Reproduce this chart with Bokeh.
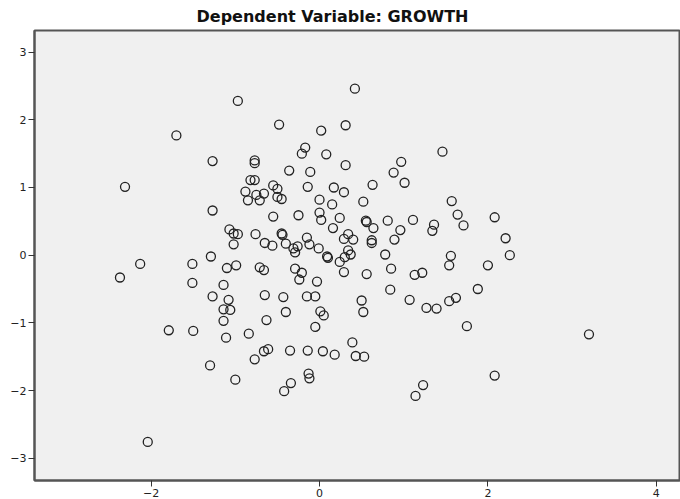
from bokeh.plotting import figure
from bokeh.models import Range1d, FixedTicker, CustomJSTickFormatter
from bokeh.embed import file_html
from bokeh.resources import INLINE

title_text = "Dependent Variable: GROWTH"
x_ticks = [-2, 0, 2, 4]
y_ticks = [-3, -2, -1, 0, 1, 2, 3]

x_vals = [
    -0.97, -1.70, -0.48, 0.02, 0.42, 0.31, -1.27, -0.77, -0.77, -0.17,
    -0.21, 0.08, -0.36, -0.11, 0.31, 1.46, 0.97, 0.88, 1.01, 0.63,
    0.29, 0.52, 1.57, 1.64, 1.71, 2.08, 2.21, 1.11, 0.81, 0.55,
    0.56, 0.64, 0.96, 1.36, 1.34, 0.89, 0.62, 0.62, 0.29, 0.40,
    0.34, 0.30, 0.34, 0.37, 0.78, 1.56, 1.54, 2.26, 2.00, 0.29,
    0.56, 0.85, 1.13, 1.22, 0.84, 1.88, 0.50, 0.52, 1.07, 1.27,
    1.39, 1.54, 1.62, 1.75, 3.20, 0.39, 0.43, 0.53, 2.08, 1.23,
    1.14, -1.29, -2.13, -2.37, -1.51, -1.51, -1.10, -0.99, -1.14, -1.27,
    -1.08, -1.14, -1.06, -1.14, -1.11, -1.79, -1.50, -1.30, -1.00, -0.84,
    -0.77, -0.66, -0.61, -0.63, -0.65, -0.71, -0.66, -0.43, -0.40, -0.35,
    -0.14, 0.04, 0.18, -0.34, -0.42, -0.13, -0.12, -2.04, -0.29, -0.21,
    -0.24, -0.03, -0.15, -0.05, 0.01, 0.05, -0.05, -0.29, 0.09, 0.10,
    0.24, -2.31, -0.82, -0.77, -0.88, -0.85, -0.75, -0.71, -0.66, -0.55,
    -0.50, -0.50, -0.45, -0.14, 0.00, 0.00, 0.02, -0.25, -0.55, -1.27,
    -1.07, -1.02, -0.97, -1.02, -0.76, -0.65, -0.56, -0.45, -0.44, -0.40,
    -0.31, -0.26, -0.15, -0.12, -0.01, 0.17, 0.15, 0.24, 0.16,
]
y_vals = [
    2.28, 1.77, 1.93, 1.84, 2.46, 1.92, 1.39, 1.40, 1.36, 1.59,
    1.50, 1.49, 1.25, 1.23, 1.33, 1.53, 1.38, 1.22, 1.07, 1.04,
    0.93, 0.79, 0.80, 0.60, 0.44, 0.56, 0.25, 0.52, 0.51, 0.51,
    0.49, 0.40, 0.37, 0.45, 0.36, 0.23, 0.22, 0.18, 0.24, 0.23,
    0.31, -0.03, 0.07, 0.01, 0.01, -0.01, -0.15, 0.00, -0.15, -0.25,
    -0.28, -0.20, -0.29, -0.26, -0.51, -0.50, -0.67, -0.84, -0.66, -0.78,
    -0.79, -0.68, -0.63, -1.05, -1.17, -1.29, -1.49, -1.50, -1.78, -1.92,
    -2.08, -0.02, -0.13, -0.33, -0.13, -0.41, -0.19, -0.15, -0.44, -0.61,
    -0.66, -0.80, -0.81, -0.97, -1.22, -1.11, -1.12, -1.63, -1.84, -1.16,
    -1.54, -1.42, -1.39, -0.96, -0.59, -0.18, -0.22, -0.62, -0.84, -1.41,
    -1.41, -1.42, -1.47, -1.89, -2.01, -1.75, -1.82, -2.76, -0.20, -0.26,
    -0.36, -0.39, -0.61, -0.61, -0.83, -0.89, -1.06, 0.04, -0.02, -0.04,
    -0.10, 1.01, 1.11, 1.11, 0.94, 0.81, 0.89, 0.81, 0.91, 1.03,
    0.98, 0.86, 0.83, 1.01, 0.82, 0.63, 0.52, 0.59, 0.57, 0.66,
    0.38, 0.32, 0.31, 0.16, 0.31, 0.18, 0.14, 0.32, 0.30, 0.17,
    0.10, 0.13, 0.26, 0.16, 0.10, 1.00, 0.75, 0.55, 0.40,
]

p = figure(
    width=680, height=499,
    output_backend="svg", toolbar_location=None,
    x_range=Range1d(-3.385, 4.287), y_range=Range1d(-3.33, 3.32),
    min_border_left=34, min_border_right=0, min_border_top=0, min_border_bottom=0,
)

p.title.text = title_text
p.title.align = "left"
p.title.offset = 162
p.title.text_font = "DejaVu Sans"
p.title.text_font_size = "16px"
p.title.text_font_style = "bold"
p.title.text_color = "#111111"
p.title.standoff = 9

p.background_fill_color = "#f0f0f0"
p.border_fill_color = "white"
p.outline_line_color = "#555555"
p.outline_line_width = 2
p.xgrid.visible = False
p.ygrid.visible = False

fmt = CustomJSTickFormatter(code="return tick.toString().replace('-', '\u2212');")
for ax in (p.xaxis[0], p.yaxis[0]):
    ax.axis_line_color = "#555555"
    ax.axis_line_width = 2
    ax.major_tick_line_color = "#333333"
    ax.major_tick_line_width = 1
    ax.major_tick_out = 6
    ax.major_tick_in = 0
    ax.minor_tick_out = 0
    ax.minor_tick_in = 0
    ax.major_label_text_font = "DejaVu Sans"
    ax.major_label_text_font_size = "11px"
    ax.major_label_text_color = "#222222"
    ax.major_label_standoff = 2
    ax.formatter = fmt
p.xaxis[0].ticker = FixedTicker(ticks=x_ticks)
p.yaxis[0].ticker = FixedTicker(ticks=y_ticks)

p.scatter(x_vals, y_vals, marker="circle", size=9, fill_color=None,
          line_color="#222222", line_width=1.3)

open("out.html", "w").write(file_html(p, INLINE))
